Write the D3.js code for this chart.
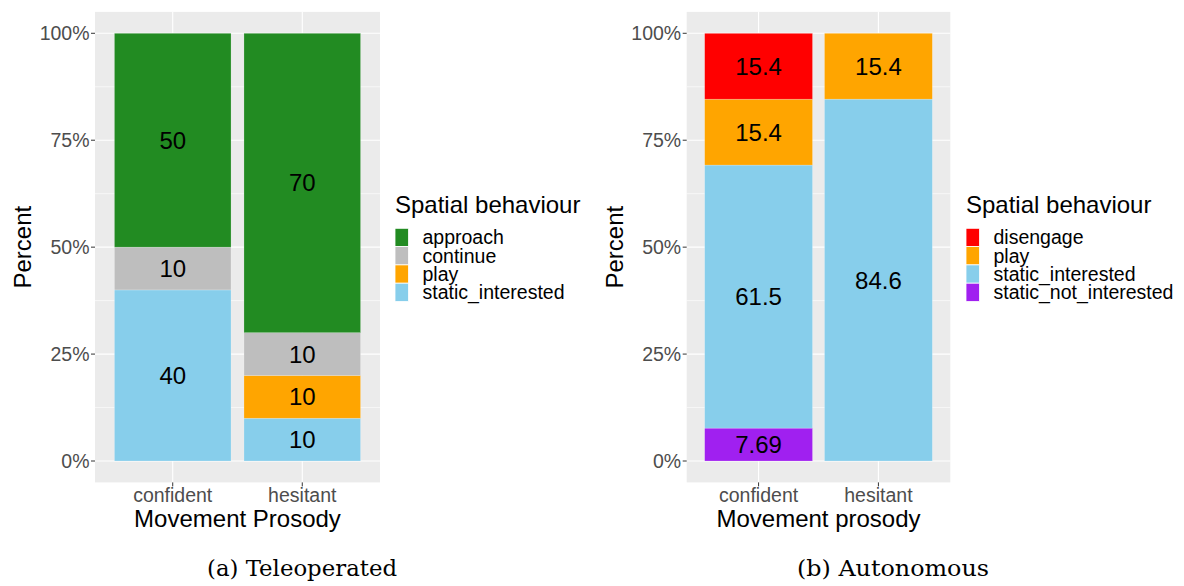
<!DOCTYPE html>
<html>
<head>
<meta charset="utf-8">
<script src="https://cdn.jsdelivr.net/npm/d3@7"></script>
<style>
  html, body { margin: 0; padding: 0; background: #fff; }
  svg { display: block; }
  text { font-family: "Liberation Sans", Arial, Helvetica, sans-serif; }
</style>
</head>
<body>
<svg id="chart" width="1184" height="586"></svg>
<script>
// ---------- data ----------
const categories = ["confident", "hesitant"];
const yTicks = [0, 25, 50, 75, 100];
const yTickLabels = ["0%", "25%", "50%", "75%", "100%"];

// Panel (a) Teleoperated
const teleBehaviours = ["approach", "continue", "play", "static_interested"];
const teleApproach = [50, 70];
const teleContinue = [10, 10];
const telePlay = [0, 10];
const teleStatic = [40, 10];

// Panel (b) Autonomous
const autoBehaviours = ["disengage", "play", "static_interested", "static_not_interested"];
const autoDisengage = [15.4, 0];
const autoPlay = [15.4, 15.4];
const autoStatic = [61.5, 84.6];
const autoStaticNot = [7.69, 0];

const colourMap = {
  approach: "#228B22",
  continue: "#BEBEBE",
  play: "#FFA500",
  static_interested: "#87CEEB",
  disengage: "#FF0000",
  static_not_interested: "#A020F0"
};

const panels = [
  {
    behaviours: teleBehaviours,
    series: [teleApproach, teleContinue, telePlay, teleStatic],
    x0: 95, x1: 380,
    xTitle: "Movement Prosody",
    caption: "(a) Teleoperated", captionX: 302, captionW: 190,
    legendX: 395
  },
  {
    behaviours: autoBehaviours,
    series: [autoDisengage, autoPlay, autoStatic, autoStaticNot],
    x0: 686.7, x1: 950.3,
    xTitle: "Movement prosody",
    caption: "(b) Autonomous", captionX: 893, captionW: 192,
    legendX: 966
  }
];

const svg = d3.select("#chart");
const panelTop = 11.9, panelBottom = 482.4;

panels.forEach(p => {
  const g = svg.append("g");
  const y = d3.scaleLinear().domain([-5, 105]).range([panelBottom, panelTop]);
  const xc = d3.scaleLinear().domain([0.4, 2.6]).range([p.x0, p.x1]);
  const unit = xc(2) - xc(1);
  const barW = unit * 0.9;

  g.append("rect").attr("x", p.x0).attr("y", panelTop)
    .attr("width", p.x1 - p.x0).attr("height", panelBottom - panelTop)
    .attr("fill", "#EBEBEB");

  const minor = [12.5, 37.5, 62.5, 87.5];
  g.selectAll(".minor").data(minor).enter().append("line")
    .attr("x1", p.x0).attr("x2", p.x1)
    .attr("y1", d => y(d)).attr("y2", d => y(d))
    .attr("stroke", "#fff").attr("stroke-width", 0.6);
  g.selectAll(".major").data(yTicks).enter().append("line")
    .attr("x1", p.x0).attr("x2", p.x1)
    .attr("y1", d => y(d)).attr("y2", d => y(d))
    .attr("stroke", "#fff").attr("stroke-width", 1.1);
  g.selectAll(".vmajor").data(categories).enter().append("line")
    .attr("x1", (d, i) => xc(i + 1)).attr("x2", (d, i) => xc(i + 1))
    .attr("y1", panelTop).attr("y2", panelBottom)
    .attr("stroke", "#fff").attr("stroke-width", 1.1);

  const rows = categories.map((c, ci) => {
    const r = { cat: c, idx: ci };
    p.behaviours.forEach((b, bi) => { r[b] = p.series[bi][ci]; });
    return r;
  });
  const stackKeys = p.behaviours.slice().reverse();
  const stacked = d3.stack().keys(stackKeys)(rows);

  stacked.forEach(layer => {
    const key = layer.key;
    layer.forEach(seg => {
      const v = seg[1] - seg[0];
      if (v <= 0) return;
      const ci = seg.data.idx;
      const cx = xc(ci + 1);
      g.append("rect")
        .attr("x", cx - barW / 2).attr("width", barW)
        .attr("y", y(seg[1])).attr("height", y(seg[0]) - y(seg[1]))
        .attr("fill", colourMap[key])
        .attr("stroke", "rgba(255,255,255,0.35)").attr("stroke-width", 0.6);
      g.append("text")
        .attr("x", cx).attr("y", y((seg[0] + seg[1]) / 2))
        .attr("text-anchor", "middle").attr("dominant-baseline", "central")
        .attr("font-size", 24).attr("fill", "#000")
        .text(d3.format(".3~")(v));
    });
  });

  yTicks.forEach((t, i) => {
    g.append("line").attr("x1", p.x0 - 4).attr("x2", p.x0)
      .attr("y1", y(t)).attr("y2", y(t))
      .attr("stroke", "#333").attr("stroke-width", 1);
    g.append("text").attr("x", p.x0 - 5.5).attr("y", y(t))
      .attr("text-anchor", "end").attr("dominant-baseline", "central")
      .attr("font-size", 19.5).attr("fill", "#4D4D4D")
      .text(yTickLabels[i]);
  });
  categories.forEach((c, i) => {
    const cx = xc(i + 1);
    g.append("line").attr("x1", cx).attr("x2", cx)
      .attr("y1", panelBottom).attr("y2", panelBottom + 4)
      .attr("stroke", "#333").attr("stroke-width", 1);
    g.append("text").attr("x", cx).attr("y", 502)
      .attr("text-anchor", "middle")
      .attr("font-size", 19.5).attr("fill", "#4D4D4D")
      .text(c);
  });
  g.append("text").attr("x", (p.x0 + p.x1) / 2).attr("y", 526.5)
    .attr("text-anchor", "middle").attr("font-size", 24).attr("fill", "#000")
    .text(p.xTitle);
  const ytx = p.x0 - 64;
  g.append("text")
    .attr("transform", `translate(${ytx},${(panelTop + panelBottom) / 2}) rotate(-90)`)
    .attr("text-anchor", "middle").attr("font-size", 24).attr("fill", "#000")
    .text("Percent");

  const lx = p.legendX;
  g.append("text").attr("x", lx).attr("y", 213)
    .attr("font-size", 24).attr("fill", "#000").text("Spatial behaviour");
  const keyH = 18.3, keyW = 13.5, keyTop = 228.3;
  p.behaviours.forEach((b, i) => {
    g.append("rect").attr("x", lx).attr("y", keyTop + i * keyH)
      .attr("width", keyW).attr("height", keyH)
      .attr("fill", colourMap[b])
      .attr("stroke", "#fff").attr("stroke-width", 0.8);
    g.append("text").attr("x", lx + 27.5).attr("y", keyTop + i * keyH + keyH / 2)
      .attr("dominant-baseline", "central")
      .attr("font-size", 19.5).attr("fill", "#000").text(b);
  });

  svg.append("text").attr("x", p.captionX).attr("y", 576)
    .attr("text-anchor", "middle")
    .style("font-family", "'DejaVu Serif', 'Liberation Serif', serif")
    .attr("font-size", 22.5).attr("fill", "#000")
    .attr("textLength", p.captionW).attr("lengthAdjust", "spacingAndGlyphs")
    .text(p.caption);
});
</script>
</body>
</html>
